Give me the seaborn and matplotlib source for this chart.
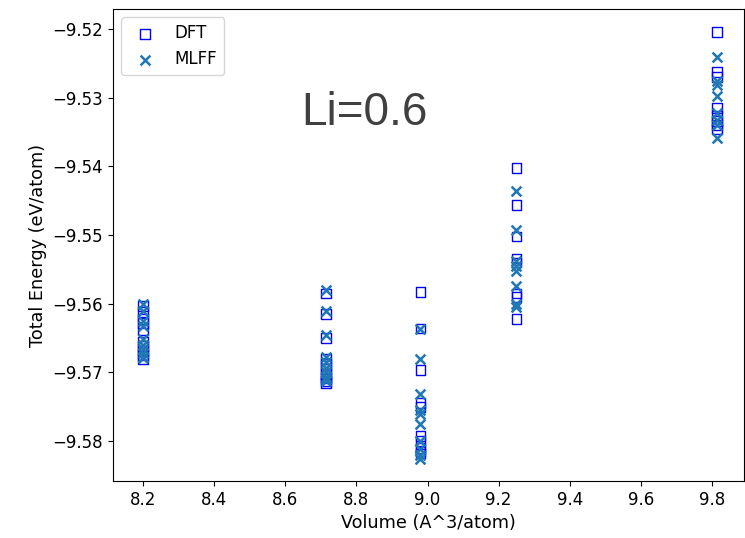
import numpy as np
import pandas as pd
import matplotlib
matplotlib.use('Agg')
import matplotlib.pyplot as plt
import seaborn as sns

# volumes of the five cells (A^3/atom)
volumes = [8.2, 8.715, 8.98, 9.25, 9.815]

# DFT energies per volume (eV/atom)
dft_e = [
    [-9.5603, -9.5612, -9.5622, -9.5628, -9.5638, -9.5655, -9.5662, -9.5668, -9.5674, -9.5680],
    [-9.5585, -9.5615, -9.5650, -9.5680, -9.5688, -9.5695, -9.5702, -9.5708, -9.5712, -9.5715],
    [-9.5583, -9.5636, -9.5697, -9.5745, -9.5750, -9.5793, -9.5800, -9.5810, -9.5815, -9.5818],
    [-9.5402, -9.5456, -9.5502, -9.5534, -9.5540, -9.5585, -9.5590, -9.5622],
    [-9.5204, -9.5263, -9.5270, -9.5315, -9.5326, -9.5334, -9.5340, -9.5345],
]

# MLFF energies per volume (eV/atom)
mlff_e = [
    [-9.5600, -9.5610, -9.5625, -9.5632, -9.5652, -9.5660, -9.5666, -9.5672, -9.5677, -9.5679],
    [-9.5580, -9.5610, -9.5645, -9.5678, -9.5685, -9.5693, -9.5700, -9.5706, -9.5710, -9.5713],
    [-9.5636, -9.5680, -9.5732, -9.5755, -9.5760, -9.5775, -9.5800, -9.5812, -9.5820, -9.5826],
    [-9.5436, -9.5492, -9.5538, -9.5545, -9.5552, -9.5574, -9.5600, -9.5605],
    [-9.5240, -9.5276, -9.5282, -9.5297, -9.5322, -9.5333, -9.5340, -9.5358],
]

# flatten into tables
dft = pd.DataFrame({
    'Volume': [v for v, es in zip(volumes, dft_e) for _ in es],
    'Energy': [e for es in dft_e for e in es],
})
mlff = pd.DataFrame({
    'Volume': [v for v, es in zip(volumes, mlff_e) for _ in es],
    'Energy': [e for es in mlff_e for e in es],
})

plt.rcParams['font.size'] = 12

fig = plt.figure(figsize=(7.45, 5.38), dpi=100)
ax = fig.add_axes([0.1517, 0.106, 0.847, 0.877])

sns.scatterplot(data=dft, x='Volume', y='Energy', marker='s', s=50,
                facecolors='none', edgecolor='blue', linewidth=1.0,
                label='DFT', ax=ax)
sns.scatterplot(data=mlff, x='Volume', y='Energy', marker='x', s=50,
                color='#1f77b4', linewidth=1.8, label='MLFF', ax=ax)

ax.text(8.645, -9.534, 'Li=0.6', fontsize=33, color='#404040',
        family='Liberation Sans')

ax.set_xlim(8.1156, 9.890)
ax.set_ylim(-9.5858, -9.5171)
ax.set_xlabel('Volume (A^3/atom)', fontsize=12.7)
ax.set_ylabel('Total Energy (eV/atom)', fontsize=12.7)
ax.legend(loc='upper left')

fig.savefig('out.png', dpi=100)
